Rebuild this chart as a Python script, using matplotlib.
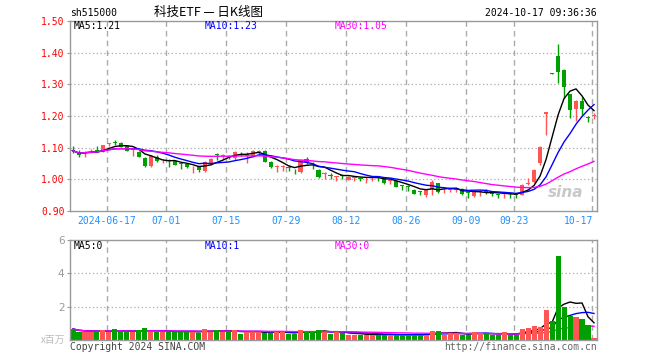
import matplotlib
matplotlib.use('Agg')
import matplotlib.pyplot as plt
import pandas as pd

# ---------------- data ----------------
dates = ['06-06', '06-07', '06-11', '06-12', '06-13', '06-14', '06-17', '06-18', '06-19', '06-20',
         '06-21', '06-24', '06-25', '06-26', '06-27', '06-28', '07-01', '07-02', '07-03', '07-04',
         '07-05', '07-08', '07-09', '07-10', '07-11', '07-12', '07-15', '07-16', '07-17', '07-18',
         '07-19', '07-22', '07-23', '07-24', '07-25', '07-26', '07-29', '07-30', '07-31', '08-01',
         '08-02', '08-05', '08-06', '08-07', '08-08', '08-09', '08-12', '08-13', '08-14', '08-15',
         '08-16', '08-19', '08-20', '08-21', '08-22', '08-23', '08-26', '08-27', '08-28', '08-29',
         '08-30', '09-02', '09-03', '09-04', '09-05', '09-06', '09-09', '09-10', '09-11', '09-12',
         '09-13', '09-18', '09-19', '09-20', '09-23', '09-24', '09-25', '09-26', '09-27', '09-30',
         '10-08', '10-09', '10-10', '10-11', '10-14', '10-15', '10-16', '10-17']

opens = [1.092, 1.086, 1.083, 1.088, 1.093, 1.086, 1.112, 1.118, 1.116, 1.105,
         1.092, 1.086, 1.067, 1.042, 1.071, 1.060, 1.060, 1.057, 1.050, 1.049,
         1.038, 1.040, 1.025, 1.047, 1.080, 1.074, 1.074, 1.066, 1.084, 1.075,
         1.074, 1.086, 1.088, 1.055, 1.040, 1.040, 1.040, 1.030, 1.023, 1.063,
         1.052, 1.030, 1.018, 1.014, 1.008, 1.012, 0.999, 1.004, 1.004, 1.003,
         1.006, 1.008, 1.004, 0.995, 0.994, 0.982, 0.978, 0.966, 0.962, 0.950,
         0.970, 0.988, 0.968, 0.966, 0.966, 0.971, 0.958, 0.946, 0.961, 0.967,
         0.956, 0.953, 0.954, 0.956, 0.953, 0.951, 0.985, 0.993, 1.050, 1.205,
         1.334, 1.390, 1.346, 1.268, 1.222, 1.247, 1.195, 1.201]
highs = [1.105, 1.093, 1.090, 1.097, 1.105, 1.108, 1.116, 1.124, 1.119, 1.107,
         1.096, 1.088, 1.069, 1.076, 1.076, 1.064, 1.064, 1.059, 1.053, 1.052,
         1.042, 1.042, 1.058, 1.067, 1.082, 1.080, 1.078, 1.088, 1.087, 1.086,
         1.093, 1.092, 1.092, 1.057, 1.044, 1.046, 1.046, 1.033, 1.065, 1.072,
         1.054, 1.033, 1.024, 1.019, 1.011, 1.017, 1.009, 1.007, 1.006, 1.008,
         1.010, 1.010, 1.005, 0.998, 0.996, 0.983, 0.981, 0.968, 0.964, 0.968,
         0.997, 0.990, 0.974, 0.971, 0.976, 0.974, 0.961, 0.965, 0.967, 0.969,
         0.957, 0.955, 0.959, 0.958, 0.955, 0.986, 1.005, 1.032, 1.105, 1.214,
         1.335, 1.426, 1.348, 1.270, 1.249, 1.261, 1.199, 1.209]
lows = [1.082, 1.070, 1.070, 1.082, 1.085, 1.085, 1.104, 1.108, 1.101, 1.089,
        1.075, 1.069, 1.038, 1.040, 1.055, 1.052, 1.040, 1.045, 1.032, 1.036,
        1.019, 1.024, 1.022, 1.045, 1.060, 1.064, 1.064, 1.061, 1.074, 1.052,
        1.072, 1.076, 1.054, 1.036, 1.023, 1.025, 1.027, 1.017, 1.019, 1.049,
        1.034, 1.005, 1.002, 1.002, 0.994, 1.000, 0.998, 0.994, 0.996, 0.989,
        0.994, 0.995, 0.986, 0.985, 0.975, 0.966, 0.964, 0.953, 0.949, 0.943,
        0.951, 0.958, 0.957, 0.959, 0.959, 0.951, 0.940, 0.944, 0.946, 0.954,
        0.946, 0.942, 0.940, 0.941, 0.940, 0.949, 0.983, 0.990, 1.045, 1.140,
        1.332, 1.303, 1.258, 1.195, 1.184, 1.203, 1.180, 1.192]
closes = [1.090, 1.076, 1.086, 1.090, 1.091, 1.107, 1.114, 1.116, 1.103, 1.091,
          1.094, 1.071, 1.042, 1.074, 1.057, 1.062, 1.058, 1.046, 1.048, 1.040,
          1.040, 1.028, 1.055, 1.065, 1.078, 1.076, 1.072, 1.086, 1.082, 1.080,
          1.090, 1.088, 1.056, 1.038, 1.042, 1.042, 1.035, 1.028, 1.061, 1.055,
          1.050, 1.008, 1.020, 1.012, 1.010, 1.010, 1.008, 1.006, 1.002, 1.005,
          1.008, 1.006, 0.988, 0.997, 0.977, 0.980, 0.976, 0.955, 0.960, 0.966,
          0.993, 0.961, 0.970, 0.968, 0.968, 0.953, 0.956, 0.963, 0.963, 0.956,
          0.954, 0.951, 0.956, 0.954, 0.951, 0.982, 0.988, 1.030, 1.103, 1.212,
          1.333, 1.338, 1.290, 1.220, 1.247, 1.222, 1.193, 1.203]
volumes = [0.66, 0.50, 0.50, 0.50, 0.50, 0.60, 0.50, 0.66, 0.50, 0.50,
           0.50, 0.58, 0.72, 0.50, 0.50, 0.50, 0.50, 0.50, 0.50, 0.50,
           0.50, 0.45, 0.66, 0.50, 0.58, 0.50, 0.50, 0.60, 0.38, 0.50,
           0.50, 0.50, 0.45, 0.45, 0.48, 0.48, 0.38, 0.38, 0.58, 0.50,
           0.50, 0.63, 0.50, 0.38, 0.50, 0.45, 0.32, 0.32, 0.32, 0.32,
           0.32, 0.32, 0.32, 0.32, 0.32, 0.32, 0.32, 0.32, 0.32, 0.32,
           0.56, 0.56, 0.32, 0.40, 0.40, 0.32, 0.32, 0.48, 0.40, 0.40,
           0.32, 0.32, 0.48, 0.32, 0.32, 0.68, 0.72, 0.84, 0.80, 1.80,
           1.16, 5.03, 1.96, 1.45, 1.40, 1.27, 0.90, 0.14]

tick_dates = ['06-17', '07-01', '07-15', '07-29', '08-12', '08-26', '09-09', '09-23', '10-17']
tick_labels = ['2024-06-17', '07-01', '07-15', '07-29', '08-12', '08-26', '09-09', '09-23', '10-17']
price_ticks = [0.90, 1.00, 1.10, 1.20, 1.30, 1.40, 1.50]
vol_ticks = [2, 4, 6]
price_legend = ['MA5:1.21', 'MA10:1.23', 'MA30:1.05']
vol_legend = ['MA5:0', 'MA10:1', 'MA30:0']

# ---------------- style ----------------
W, H = 660, 360
RED = '#ff5555'
GREEN = '#00a000'
GRID = '#aaaaaa'
SPINE = '#999999'
BLUE_TXT = '#1e90ff'
MA_COLORS = ['#000000', '#0000ff', '#ff00ff']
MONO = ['DejaVu Sans Mono', 'Noto Sans CJK SC']
CJK = ['Noto Sans CJK SC', 'DejaVu Sans']


def fx(px):
    return px / W


def fy(py):
    return 1 - py / H


fig = plt.figure(figsize=(W / 100, H / 100), dpi=100)
fig.patch.set_facecolor('white')

ax = fig.add_axes([fx(70), fy(211), 527 / W, 190 / H])
axv = fig.add_axes([fx(70), fy(340), 527 / W, 100 / H])

n = len(closes)
xs = list(range(n))
colors = [RED if c >= o else GREEN for o, c in zip(opens, closes)]
tick_idx = [dates.index(d) for d in tick_dates]

close_s = pd.Series(closes)
vol_s = pd.Series(volumes)
periods = [5, 10, 30]

for a in (ax, axv):
    a.set_xlim(-0.5, n - 0.5)
    for sp in a.spines.values():
        sp.set_color(SPINE)
        sp.set_linewidth(1)
    for i in tick_idx:
        a.axvline(i - 0.4, color=GRID, lw=1, ls=(0, (4, 3)), zorder=0)

# ---------------- price panel ----------------
ax.set_ylim(0.90, 1.50)
for y in price_ticks[1:-1]:
    ax.axhline(y, color=GRID, lw=0.9, ls=(0, (1, 2)), zorder=0)

for i in xs:
    o, h, l, c = opens[i], highs[i], lows[i], closes[i]
    col = colors[i]
    ax.vlines(i, l, h, color=col, lw=1, zorder=2)
    body = max(abs(c - o), 0.0025)
    ax.bar(i, body, bottom=min(o, c), width=0.7, color=col, lw=0, zorder=2)

for p, col in zip(periods, MA_COLORS):
    ax.plot(xs, close_s.rolling(p, min_periods=1).mean(), color=col, lw=1, zorder=3)

ax.set_yticks(price_ticks)
ax.set_yticklabels(['%.2f' % v for v in price_ticks], color='#ff0000',
                   fontsize=7, family='DejaVu Sans Mono')
ax.set_xticks([])
ax.tick_params(axis='y', length=2, color=SPINE, pad=2)

# date labels (last one kept inside the plot)
for k, (i, lab) in enumerate(zip(tick_idx, tick_labels)):
    last = (k == len(tick_idx) - 1)
    ax.text(i - 0.4 + (0.3 if last else 0), -0.055, lab, transform=ax.get_xaxis_transform(),
            ha='right' if last else 'center', va='center', color=BLUE_TXT,
            fontsize=7, family='DejaVu Sans Mono')

# sina watermark
ax.text(0.975, 0.06, 'sina', transform=ax.transAxes, ha='right', va='bottom',
        fontsize=11, fontweight='bold', style='italic', color='#bbbbbb', alpha=0.8, zorder=1)

# ---------------- volume panel ----------------
axv.set_ylim(0, 6)
for y in vol_ticks[:-1]:
    axv.axhline(y, color=GRID, lw=0.9, ls=(0, (1, 2)), zorder=0)

for p, col in zip(periods, MA_COLORS):
    axv.plot(xs, vol_s.rolling(p, min_periods=1).mean(), color=col, lw=1, zorder=1)
axv.bar(xs, volumes, width=0.85, color=colors, lw=0, zorder=2)

axv.set_yticks(vol_ticks)
axv.set_yticklabels([str(v) for v in vol_ticks], color='#999999', fontsize=7.5)
axv.set_xticks([])
axv.tick_params(axis='y', length=2, color=SPINE, pad=2)

# ---------------- texts ----------------
fig.text(fx(70), fy(13), 'sh515000', family=MONO, fontsize=7, ha='left', va='center')
fig.text(fx(209), fy(12), '科技ETF — 日K线图', family=CJK, fontsize=9, ha='center', va='center')
fig.text(fx(597), fy(13), '2024-10-17 09:36:36', family=MONO, fontsize=7, ha='right', va='center')

for txt, x, col in zip(price_legend, [74, 205, 335], MA_COLORS):
    fig.text(fx(x), fy(26), txt, family=MONO, fontsize=7, color=col, ha='left', va='center')
for txt, x, col in zip(vol_legend, [74, 205, 335], MA_COLORS):
    fig.text(fx(x), fy(246), txt, family=MONO, fontsize=7, color=col, ha='left', va='center')

fig.text(fx(65), fy(340), 'x百万', family=CJK, fontsize=7, color='#bbbbbb', ha='right', va='center')
fig.text(fx(70), fy(347), 'Copyright 2024 SINA.COM', family=MONO, fontsize=7, color='#444444',
         ha='left', va='center')
fig.text(fx(597), fy(347), 'http://finance.sina.com.cn', family=MONO, fontsize=7, color='#666666',
         ha='right', va='center')

fig.savefig('out.png', dpi=100, facecolor='white')
